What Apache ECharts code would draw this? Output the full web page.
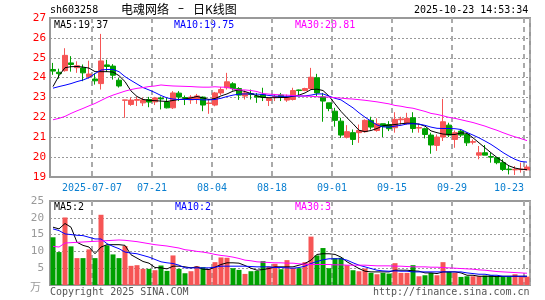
<!DOCTYPE html>
<html>
<head>
<meta charset="utf-8">
<script src="https://cdn.jsdelivr.net/npm/echarts@6/dist/echarts.min.js"></script>
<style>
  html, body { margin: 0; padding: 0; background: #fff; }
  #chart { width: 545px; height: 300px; }
</style>
</head>
<body>
<div id="chart"></div>
<script>
// trading days shown on the chart
const dates = [
  '2025-06-26', '2025-06-27', '2025-06-30',
  '2025-07-01', '2025-07-02', '2025-07-03', '2025-07-04', '2025-07-07', '2025-07-08', '2025-07-09', '2025-07-10', '2025-07-11',
  '2025-07-14', '2025-07-15', '2025-07-16', '2025-07-17', '2025-07-18', '2025-07-21', '2025-07-22', '2025-07-23', '2025-07-24', '2025-07-25',
  '2025-07-28', '2025-07-29', '2025-07-30', '2025-07-31', '2025-08-01', '2025-08-04', '2025-08-05', '2025-08-06', '2025-08-07', '2025-08-08',
  '2025-08-11', '2025-08-12', '2025-08-13', '2025-08-14', '2025-08-15', '2025-08-18', '2025-08-19', '2025-08-20', '2025-08-21', '2025-08-22',
  '2025-08-25', '2025-08-26', '2025-08-27', '2025-08-28', '2025-08-29', '2025-09-01', '2025-09-02', '2025-09-03', '2025-09-04', '2025-09-05',
  '2025-09-08', '2025-09-09', '2025-09-10', '2025-09-11', '2025-09-12', '2025-09-15', '2025-09-16', '2025-09-17', '2025-09-18', '2025-09-19',
  '2025-09-22', '2025-09-23', '2025-09-24', '2025-09-25', '2025-09-26', '2025-09-29', '2025-09-30', '2025-10-09', '2025-10-10',
  '2025-10-13', '2025-10-14', '2025-10-15', '2025-10-16', '2025-10-17', '2025-10-20', '2025-10-21', '2025-10-22', '2025-10-23'
]
const opens = [
  24.41, 24.27, 24.35, 24.74, 24.50, 24.49, 24.05, 23.93, 23.70, 24.64,
  24.58, 23.87, 22.86, 22.65, 22.86, 22.73, 22.90, 22.78, 22.97, 22.78,
  22.48, 23.22, 23.00, 22.88, 22.92, 23.02, 22.70, 22.62, 23.23, 23.49,
  23.69, 23.45, 23.07, 23.20, 23.08, 23.15, 22.85, 23.02, 23.12, 22.87,
  22.90, 23.38, 23.35, 23.45, 23.99, 23.03, 22.73, 22.31, 21.81, 21.00,
  21.23, 21.23, 21.28, 21.85, 21.34, 21.68, 21.64, 21.48, 21.88, 21.68,
  21.98, 21.46, 21.43, 21.11, 20.59, 21.01, 21.61, 20.89, 21.31, 21.14,
  20.75, 20.10, 20.22, 20.03, 19.97, 19.72, 19.40, 19.36, 19.37, 19.36
]
const closes = [
  24.33, 24.20, 25.12, 24.66, 24.60, 24.24, 24.18, 23.84, 24.84, 24.56,
  24.12, 23.58, 22.88, 22.87, 22.90, 22.88, 22.77, 22.98, 22.93, 22.48,
  23.23, 23.02, 22.96, 23.02, 23.08, 22.62, 22.72, 23.23, 23.40, 23.79,
  23.45, 23.12, 23.23, 23.15, 23.02, 23.00, 22.95, 23.05, 23.02, 23.02,
  23.35, 23.35, 23.45, 24.02, 23.23, 22.82, 22.45, 21.85, 21.11, 21.28,
  20.89, 21.34, 21.85, 21.51, 21.68, 21.54, 21.43, 21.90, 21.92, 21.95,
  21.44, 21.49, 21.14, 20.61, 21.01, 21.78, 21.11, 21.23, 21.11, 20.72,
  20.78, 20.22, 20.10, 20.00, 19.72, 19.38, 19.37, 19.39, 19.40, 19.50
]
const lows = [
  24.14, 23.95, 24.30, 24.30, 24.24, 23.82, 23.95, 23.65, 23.40, 24.28,
  23.90, 23.50, 21.98, 22.58, 22.57, 22.57, 22.51, 22.62, 22.40, 22.45,
  22.42, 22.82, 22.62, 22.68, 22.68, 22.31, 22.18, 22.56, 23.12, 23.40,
  23.35, 22.88, 22.90, 22.90, 22.73, 22.82, 22.57, 22.82, 22.82, 22.78,
  22.85, 23.12, 23.32, 23.40, 23.07, 21.78, 22.31, 21.53, 20.97, 20.94,
  20.61, 20.72, 21.23, 21.39, 21.28, 21.01, 21.31, 21.23, 21.64, 21.64,
  21.23, 21.23, 20.94, 20.17, 20.31, 20.81, 21.01, 20.47, 21.01, 20.56,
  20.64, 19.89, 20.10, 19.72, 19.64, 19.30, 19.13, 19.10, 19.22, 19.33
]
const highs = [
  24.74, 24.45, 25.48, 25.08, 24.82, 24.66, 24.85, 24.22, 26.20, 24.90,
  24.68, 23.98, 22.88, 23.00, 23.04, 23.00, 23.03, 23.03, 23.05, 22.98,
  23.32, 23.32, 23.10, 23.12, 23.18, 23.05, 22.90, 23.28, 23.53, 24.24,
  23.77, 23.52, 23.35, 23.40, 23.23, 23.49, 22.98, 23.18, 23.23, 23.15,
  23.49, 23.40, 23.49, 24.49, 24.19, 23.23, 22.73, 22.48, 21.98, 21.61,
  21.39, 21.64, 21.90, 22.03, 21.95, 21.68, 21.81, 22.26, 22.03, 22.23,
  22.26, 21.68, 21.48, 21.23, 21.14, 22.93, 21.73, 21.34, 21.39, 21.23,
  20.89, 20.56, 20.61, 20.22, 19.97, 19.89, 19.55, 19.55, 19.72, 19.62
]
const ma5 = [
  23.55, 24.10, 24.50, 24.55, 24.56, 24.53, 24.48, 24.30, 24.30, 24.30,
  24.28, 24.10, 23.80, 23.33, 23.05, 22.90, 22.86, 22.84, 22.82, 22.80,
  22.85, 22.90, 22.93, 22.98, 23.05, 22.98, 22.90, 22.95, 23.08, 23.18,
  23.32, 23.38, 23.30, 23.20, 23.08, 23.00, 22.99, 22.99, 23.00, 23.00,
  23.07, 23.12, 23.23, 23.40, 23.42, 23.35, 23.07, 22.68, 22.30, 21.98,
  21.68, 21.35, 21.28, 21.34, 21.44, 21.58, 21.61, 21.64, 21.68, 21.71,
  21.70, 21.66, 21.56, 21.32, 21.23, 21.16, 21.14, 21.14, 21.22, 21.20,
  20.97, 20.72, 20.47, 20.22, 19.98, 19.77, 19.56, 19.45, 19.39, 19.37
]
const ma10 = [
  23.47, 23.55, 23.62, 23.70, 23.80, 23.88, 24.00, 24.20, 24.38, 24.41,
  24.41, 24.30, 24.05, 23.86, 23.68, 23.50, 23.38, 23.25, 23.10, 22.98,
  22.92, 22.90, 22.90, 22.90, 22.90, 22.88, 22.88, 22.90, 22.96, 23.05,
  23.12, 23.17, 23.18, 23.18, 23.17, 23.15, 23.10, 23.07, 23.06, 23.06,
  23.07, 23.07, 23.08, 23.12, 23.18, 23.18, 23.07, 22.96, 22.88, 22.68,
  22.48, 22.23, 22.01, 21.81, 21.62, 21.52, 21.51, 21.56, 21.60, 21.67,
  21.68, 21.66, 21.60, 21.51, 21.45, 21.44, 21.44, 21.43, 21.39, 21.24,
  21.11, 20.97, 20.81, 20.64, 20.44, 20.23, 20.05, 19.89, 19.78, 19.75
]
const ma30 = [
  21.88, 21.95, 22.05, 22.20, 22.33, 22.45, 22.58, 22.70, 22.85, 23.00,
  23.12, 23.22, 23.32, 23.40, 23.46, 23.50, 23.55, 23.58, 23.63, 23.60,
  23.58, 23.57, 23.56, 23.55, 23.53, 23.52, 23.52, 23.54, 23.52, 23.52,
  23.42, 23.38, 23.38, 23.35, 23.30, 23.20, 23.17, 23.15, 23.13, 23.12,
  23.10, 23.08, 23.07, 23.06, 23.04, 23.03, 23.02, 22.99, 22.97, 22.94,
  22.92, 22.89, 22.86, 22.82, 22.78, 22.73, 22.68, 22.60, 22.56, 22.50,
  22.46, 22.38, 22.30, 22.20, 22.15, 22.08, 22.00, 21.95, 21.88, 21.81,
  21.74, 21.65, 21.56, 21.45, 21.35, 21.23, 21.12, 21.02, 20.93, 20.83
]
// volume, unit 万
const vols = [
  14.2, 9.8, 20.1, 11.5, 8.0, 8.0, 10.6, 8.0, 20.9, 11.8,
  9.1, 8.0, 11.6, 5.7, 5.9, 4.8, 4.8, 4.4, 5.8, 4.2,
  8.8, 4.8, 3.5, 4.1, 5.6, 5.3, 4.7, 6.8, 8.2, 8.1,
  5.0, 4.5, 3.3, 4.1, 4.2, 7.1, 5.5, 6.3, 4.7, 7.4,
  5.0, 5.0, 6.8, 14.4, 8.8, 11.0, 5.0, 8.0, 8.1, 5.9,
  4.4, 4.1, 4.9, 3.6, 3.2, 3.6, 3.4, 6.5, 3.6, 3.6,
  5.9, 2.6, 2.9, 3.6, 2.9, 6.8, 3.9, 3.6, 2.4, 2.6,
  2.6, 2.6, 2.8, 2.9, 2.5, 2.6, 2.5, 3.2, 2.5, 2.5
]
const volMa5 = [
  17.2, 16.7, 18.3, 17.2, 12.7, 11.8, 11.3, 9.3, 11.3, 12.0,
  12.0, 12.0, 11.8, 9.0, 8.0, 7.0, 6.5, 5.2, 5.1, 4.8,
  5.6, 5.6, 5.4, 5.1, 5.4, 4.7, 4.6, 5.3, 6.1, 6.6,
  6.6, 6.5, 5.8, 5.0, 4.4, 4.6, 4.9, 5.4, 5.4, 5.4,
  5.4, 5.9, 6.4, 7.4, 9.1, 9.3, 9.3, 9.1, 8.3, 6.9,
  5.9, 4.9, 4.1, 3.9, 3.9, 3.9, 3.9, 4.4, 4.4, 4.4,
  4.2, 4.1, 3.6, 3.6, 3.4, 3.9, 3.9, 3.9, 3.6, 2.9,
  2.9, 2.6, 2.6, 2.6, 2.5, 2.6, 2.6, 2.6, 2.6, 2.6
]
const volMa10 = [
  16.7, 16.2, 15.2, 15.0, 14.8, 14.7, 14.2, 13.7, 13.7, 12.3,
  11.5, 10.8, 9.8, 9.5, 9.3, 8.8, 8.3, 7.6, 6.9, 6.6,
  6.4, 5.9, 5.1, 5.1, 5.1, 5.1, 5.1, 5.3, 5.6, 5.6,
  5.6, 5.6, 5.6, 5.5, 5.4, 5.4, 5.4, 5.2, 5.2, 5.1,
  5.0, 5.2, 5.6, 6.4, 7.0, 7.5, 7.8, 7.8, 7.8, 7.4,
  6.6, 5.9, 5.4, 4.9, 4.4, 4.2, 4.1, 4.2, 4.1, 4.1,
  3.9, 3.9, 3.9, 3.9, 3.9, 3.9, 3.9, 3.9, 3.9, 3.6,
  3.4, 3.2, 3.2, 2.9, 2.9, 2.6, 2.6, 2.6, 2.6, 2.6
]
const volMa30 = [
  11.5, 11.3, 12.5, 12.6, 12.7, 12.8, 12.9, 13.0, 13.1, 13.2,
  13.3, 13.4, 13.3, 13.1, 12.9, 12.6, 12.3, 12.0, 11.8, 11.6,
  11.3, 11.0, 10.5, 10.3, 10.0, 9.8, 9.5, 9.1, 8.8, 8.6,
  8.3, 7.9, 7.4, 7.2, 6.9, 6.8, 6.7, 6.6, 6.6, 6.5,
  6.5, 6.3, 6.2, 6.1, 6.1, 6.1, 6.1, 6.0, 6.0, 5.9,
  5.9, 5.9, 5.9, 5.8, 5.7, 5.7, 5.7, 5.6, 5.6, 5.5,
  5.4, 5.4, 5.4, 5.3, 5.3, 5.2, 5.1, 5.0, 4.9, 4.8,
  4.7, 4.5, 4.4, 4.2, 4.0, 3.9, 3.8, 3.7, 3.6, 3.5
]
const labelIdx = [7, 17, 27, 37, 47, 57, 67, 79]
const maText = ['MA5:19.37', 'MA10:19.75', 'MA30:20.81']
const volMaText = ['MA5:2', 'MA10:2', 'MA30:3']

const UP = '#f65555', DOWN = '#00a000'
const MONO = '"DejaVu Sans Mono", "Liberation Mono", monospace'
const MA_COLORS = ['#000', '#0000ff', '#ff00ff']

const kData = dates.map((d, i) => [opens[i], closes[i], lows[i], highs[i]])
const volData = vols.map((v, i) => ({
  value: v,
  itemStyle: { color: closes[i] >= opens[i] ? UP : DOWN }
}))

const vLine = {
  show: true,
  interval: (idx) => labelIdx.includes(idx),
  lineStyle: { color: '#aaa', width: 2, type: [5, 4] }
}
const hLine = {
  show: true,
  lineStyle: { color: '#999', width: 1, type: [2, 2] }
}

function maSeries(data, color, xi, yi) {
  return {
    type: 'line', data, xAxisIndex: xi, yAxisIndex: yi,
    symbol: 'none', silent: true, z: 5,
    lineStyle: { color, width: 1 }
  }
}

function txt(x, y, text, fill, opts) {
  return Object.assign({
    type: 'text', left: x, top: y, silent: true,
    style: { text, fill, font: '10px ' + MONO }
  }, opts || {})
}

const chart = echarts.init(document.getElementById('chart'))
chart.setOption({
  animation: false,
  grid: [
    { left: 50, width: 480, top: 18, height: 159, show: true, borderColor: '#999', borderWidth: 2 },
    { left: 50, width: 480, top: 201, height: 84, show: true, borderColor: '#999', borderWidth: 2 }
  ],
  xAxis: [
    {
      type: 'category', gridIndex: 0, data: dates, boundaryGap: true,
      axisLine: { show: false }, axisTick: { show: false },
      axisLabel: {
        interval: (idx) => labelIdx.includes(idx),
        color: '#0a7fd0', fontFamily: MONO, fontSize: 10, margin: 6,
        formatter: (v, idx) => idx === 79 ? '{e|' + v.slice(5) + '}' : '{m|' + (idx === 7 ? v : v.slice(5)) + '}',
        rich: { m: { padding: [0, 6, 0, 0] }, e: { padding: [0, 36, 0, 0] } }
      },
      splitLine: vLine
    },
    {
      type: 'category', gridIndex: 1, data: dates, boundaryGap: true,
      axisLine: { show: false }, axisTick: { show: false }, axisLabel: { show: false },
      splitLine: vLine
    }
  ],
  yAxis: [
    {
      type: 'value', gridIndex: 0, min: 19, max: 27, interval: 1,
      axisLine: { show: false }, axisTick: { show: false },
      axisLabel: { color: '#ff0000', fontFamily: MONO, fontSize: 11, margin: 4 },
      splitLine: hLine
    },
    {
      type: 'value', gridIndex: 1, min: 0, max: 25, interval: 5,
      axisLine: { show: false }, axisTick: { show: false },
      axisLabel: { color: '#999', fontFamily: MONO, fontSize: 11, margin: 6, formatter: (v) => v === 0 ? '' : v },
      splitLine: hLine
    }
  ],
  series: [
    {
      type: 'candlestick', data: kData, xAxisIndex: 0, yAxisIndex: 0, barWidth: 5,
      itemStyle: { color: UP, color0: DOWN, borderColor: UP, borderColor0: DOWN, borderWidth: 1 }
    },
    maSeries(ma5, MA_COLORS[0], 0, 0),
    maSeries(ma10, MA_COLORS[1], 0, 0),
    maSeries(ma30, MA_COLORS[2], 0, 0),
    { type: 'bar', data: volData, xAxisIndex: 1, yAxisIndex: 1, barWidth: 5 },
    maSeries(volMa5, MA_COLORS[0], 1, 1),
    maSeries(volMa10, MA_COLORS[1], 1, 1),
    maSeries(volMa30, MA_COLORS[2], 1, 1)
  ],
  graphic: [
    txt(50, 5, 'sh603258', '#000'),
    txt(121, 3, '电魂网络', '#000', { style: { text: '电魂网络', fill: '#000', font: '12px "Noto Sans CJK SC"' } }),
    txt(178, 3, '–', '#000', { style: { text: '–', fill: '#000', font: '12px "DejaVu Sans"' } }),
    txt(193, 3, '日K线图', '#000', { style: { text: '日K线图', fill: '#000', font: '12px "Noto Sans CJK SC"' } }),
    txt(414, 5, '2025-10-23 14:53:34', '#000'),
    txt(54, 20, maText[0], MA_COLORS[0]),
    txt(174, 20, maText[1], MA_COLORS[1]),
    txt(295, 20, maText[2], MA_COLORS[2]),
    txt(54, 202, volMaText[0], MA_COLORS[0]),
    txt(175, 202, volMaText[1], MA_COLORS[1]),
    txt(295, 202, volMaText[2], MA_COLORS[2]),
    txt(30, 281, '万', '#999', { style: { text: '万', fill: '#999', font: '11px "Noto Sans CJK SC"' } }),
    txt(50, 287, 'Copyright 2025 SINA.COM', '#555'),
    txt(373, 287, 'http://finance.sina.com.cn', '#555')
  ]
})
</script>
</body>
</html>
